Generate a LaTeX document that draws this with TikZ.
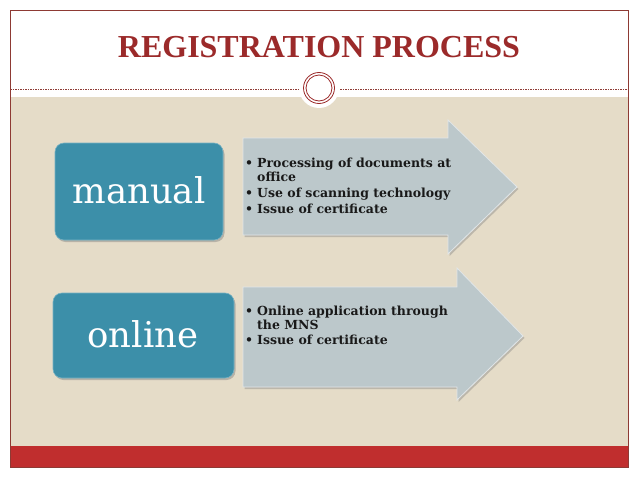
\documentclass[tikz,border=0pt]{standalone}
\usepackage{fontspec}
\setmainfont{DejaVu Serif}
\newfontfamily\titlefont{Liberation Serif}
\usetikzlibrary{shadows}
\definecolor{framered}{HTML}{8E3A34}
\definecolor{titlered}{HTML}{9B2A2A}
\definecolor{beige}{HTML}{E5DCC8}
\definecolor{bandred}{HTML}{C02E2E}
\definecolor{teal}{HTML}{3C8FA9}
\definecolor{arrowfill}{HTML}{BCC8CB}
\tikzset{
  labelbox/.style={fill=teal, draw=teal!70!white, line width=0.6pt, rounded corners=9pt,
    drop shadow={shadow xshift=1.5pt, shadow yshift=-2pt, opacity=0.45}},
  arrowshape/.style={fill=arrowfill, draw=white!55!arrowfill, line width=0.8pt,
    drop shadow={shadow xshift=1.5pt, shadow yshift=-2pt, opacity=0.4}},
  boxtext/.style={text=white, font=\fontsize{35.5}{38}\selectfont},
  bullettext/.style={anchor=base west, inner sep=0pt, text=black!90, align=left},
}
\newcommand{\bulletlist}[1]{{\fontsize{12.5}{14}\selectfont\bfseries
  \renewcommand{\arraystretch}{1}\begin{tabular}[t]{@{}l@{\hspace{4pt}}l@{}}#1\end{tabular}}}
\begin{document}
\begin{tikzpicture}[x=1pt,y=-1pt]
\useasboundingbox (0,0) rectangle (638,479);
\fill[white] (0,0) rectangle (638,479);
% background regions
\fill[beige] (10,97) rectangle (628,446);
\fill[bandred] (10,446) rectangle (628,467);
\draw[framered, line width=0.8pt] (10,10) rectangle (628,467);
% dashed line and ornament
\draw[framered, dash pattern=on 1.5pt off 1pt, line width=0.6pt] (10,89) -- (628,89);
\fill[white] (319,88) circle (20);
\draw[titlered, line width=0.8pt] (319,88) circle (15.5);
\draw[titlered, line width=0.8pt] (319,88) circle (13);
% title
\node[text=titlered, font=\titlefont\bfseries\fontsize{32}{34}\selectfont] (title) at (319,47) {REGISTRATION PROCESS};
% arrows
\draw[arrowshape] (243,138) -- (448,138) -- (448,120) -- (517,187) -- (448,254) -- (448,235) -- (243,235) -- cycle;
\draw[arrowshape] (243,287) -- (457,287) -- (457,268) -- (523,336) -- (457,400) -- (457,387) -- (243,387) -- cycle;
% label boxes
\draw[labelbox] (55,143) rectangle (223,240);
\draw[labelbox] (53,293) rectangle (234,378);
\node[boxtext] (manual) at (139,190) {manual};
\node[boxtext] (online) at (143,334) {online};
% bullet texts
\node[bullettext] (list1) at (245,167) {\bulletlist{\textbullet & Processing of documents at\\ & office\\[2pt] \textbullet & Use of scanning technology\\[2pt] \textbullet & Issue of certificate}};
\node[bullettext] (list2) at (245,315) {\bulletlist{\textbullet & Online application through\\ & the MNS\\[1pt] \textbullet & Issue of certificate}};
\end{tikzpicture}
\end{document}
